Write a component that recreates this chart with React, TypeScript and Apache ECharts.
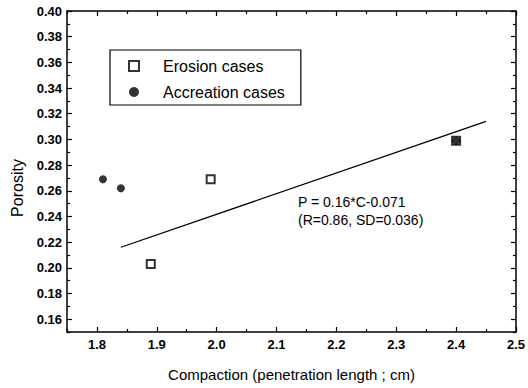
import React, { useEffect, useRef } from "react";
import * as echarts from "echarts";

// Data
const erosionC = [1.89, 1.99, 2.4];
const erosionP = [0.203, 0.269, 0.299];
const accretionC = [1.81, 1.84, 2.4];
const accretionP = [0.269, 0.262, 0.299];
const fitC = [1.84, 2.45];
const fitP = [0.216, 0.314];

// Tick values
const xMajorTicks = [1.8, 1.9, 2.0, 2.1, 2.2, 2.3, 2.4, 2.5];
const xMinorTicks = [1.75, 1.85, 1.95, 2.05, 2.15, 2.25, 2.35, 2.45];
const yMajorTicks = [0.16, 0.18, 0.2, 0.22, 0.24, 0.26, 0.28, 0.3, 0.32, 0.34, 0.36, 0.38, 0.4];
const yMinorTicks = [0.15, 0.17, 0.19, 0.21, 0.23, 0.25, 0.27, 0.29, 0.31, 0.33, 0.35, 0.37, 0.39];

const equationLines = ["P = 0.16*C-0.071", "(R=0.86, SD=0.036)"];

const FONT = "'Liberation Sans', Arial, Helvetica, sans-serif";

export default function App() {
  const ref = useRef<HTMLDivElement>(null);

  useEffect(() => {
    if (!ref.current) return;
    const chart = echarts.init(ref.current, null, { renderer: "svg" });

    const axisLine = { show: true, lineStyle: { color: "#000", width: 1.5 } };
    const mkX = (position: string, values: number[], len: number, first: boolean) => ({
      type: "value",
      min: 1.75,
      max: 2.5,
      position,
      offset: 0,
      axisLine: first ? axisLine : { show: false },
      axisTick: { show: true, inside: true, length: len, customValues: values, lineStyle: { color: "#000", width: 1.2 } },
      axisLabel:
        first && position === "bottom"
          ? { show: true, customValues: xMajorTicks, formatter: (v: number) => v.toFixed(1), color: "#000", fontSize: 13, fontWeight: "bold", fontFamily: FONT, margin: 6 }
          : { show: false },
      splitLine: { show: false },
      ...(first && position === "bottom"
        ? {
            name: "Compaction (penetration length ; cm)",
            nameLocation: "middle",
            nameGap: 35,
            nameTextStyle: { color: "#000", fontSize: 15, fontFamily: FONT },
          }
        : {}),
    });
    const mkY = (position: string, values: number[], len: number, first: boolean) => ({
      type: "value",
      min: 0.15,
      max: 0.4,
      position,
      offset: 0,
      axisLine: first ? axisLine : { show: false },
      axisTick: { show: true, inside: true, length: len, customValues: values, lineStyle: { color: "#000", width: 1.2 } },
      axisLabel:
        first && position === "left"
          ? { show: true, customValues: yMajorTicks, formatter: (v: number) => v.toFixed(2), color: "#000", fontSize: 13, fontWeight: "bold", fontFamily: FONT, margin: 5 }
          : { show: false },
      splitLine: { show: false },
      ...(first && position === "left"
        ? {
            name: "Porosity",
            nameLocation: "middle",
            nameGap: 33,
            nameTextStyle: { color: "#000", fontSize: 16, fontFamily: FONT, padding: [0, 33, 0, 0] },
          }
        : {}),
    });

    const option: any = {
      animation: false,
      backgroundColor: "#fff",
      grid: { left: 67, right: 9, top: 11, bottom: 56, containLabel: false },
      xAxis: [
        mkX("bottom", xMajorTicks, 5, true),
        mkX("bottom", xMinorTicks, 3, false),
        mkX("top", xMajorTicks, 5, true),
        mkX("top", xMinorTicks, 3, false),
      ],
      yAxis: [
        mkY("left", yMajorTicks, 5, true),
        mkY("left", yMinorTicks, 3, false),
        mkY("right", yMajorTicks, 5, true),
        mkY("right", yMinorTicks, 3, false),
      ],
      legend: {
        orient: "vertical",
        left: 110,
        top: 50,
        padding: [8, 16, 5, 18],
        itemGap: 10,
        itemWidth: 10,
        itemHeight: 10,
        borderColor: "#000",
        borderWidth: 1.2,
        backgroundColor: "#fff",
        textStyle: { color: "#000", fontSize: 16, fontFamily: FONT, padding: [0, 0, 0, 19] },
        data: [{ name: "Erosion cases" }, { name: "Accreation cases" }],
      },
      series: [
        {
          name: "Fit",
          type: "line",
          xAxisIndex: 0,
          yAxisIndex: 0,
          data: fitC.map((c, i) => [c, fitP[i]]),
          symbol: "none",
          lineStyle: { color: "#000", width: 1.3 },
          silent: true,
        },
        {
          name: "Erosion cases",
          type: "scatter",
          xAxisIndex: 0,
          yAxisIndex: 0,
          symbol: "rect",
          symbolSize: 8,
          itemStyle: { color: "#fff", borderColor: "#000", borderWidth: 2 },
          data: erosionC.map((c, i) => [c, erosionP[i]]),
        },
        {
          name: "Accreation cases",
          type: "scatter",
          xAxisIndex: 0,
          yAxisIndex: 0,
          symbol: "circle",
          symbolSize: 8,
          itemStyle: { color: "#000" },
          data: accretionC.map((c, i) => [c, accretionP[i]]),
        },
      ],
      graphic: [
        {
          type: "text",
          left: 298,
          top: 195,
          style: { text: equationLines[0], fill: "#000", font: `14px ${FONT}` },
        },
        {
          type: "text",
          left: 298,
          top: 213,
          style: { text: equationLines[1], fill: "#000", font: `14px ${FONT}` },
        },
      ],
    };

    chart.setOption(option);
    return () => chart.dispose();
  }, []);

  return (
    <div
      ref={ref}
      style={{ position: "fixed", left: 0, top: 0, width: 528, height: 388 }}
    />
  );
}
